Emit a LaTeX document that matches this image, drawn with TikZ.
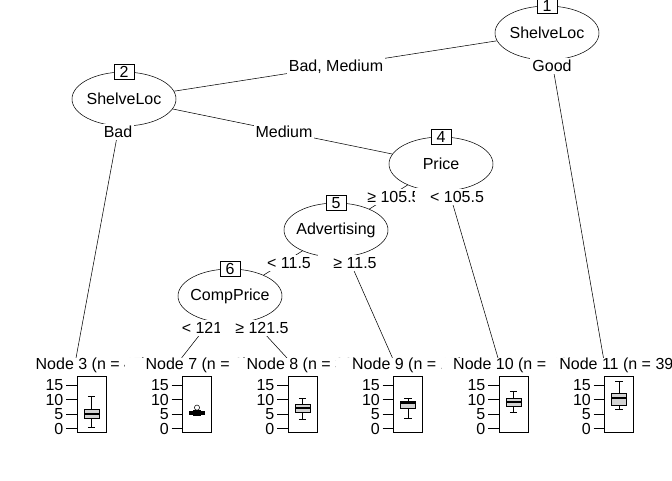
\documentclass[tikz,border=0pt]{standalone}
\usepackage{fontspec}
\setmainfont{Liberation Sans}
\usetikzlibrary{shapes.geometric}
\pgfdeclarelayer{bg}
\pgfdeclarelayer{edges}
\pgfsetlayers{bg,edges,main}
\definecolor{boxgray}{HTML}{D3D3D3}
\tikzset{
  inner/.style={ellipse, draw, fill=white, minimum width=78pt, minimum height=40.5pt, inner sep=0pt},
  idbox/.style={draw, fill=white, minimum width=15pt, minimum height=11.25pt, inner sep=0pt},
  elab/.style={fill=white, inner xsep=1.5pt, inner ysep=2pt, text height=8.6pt, text depth=0pt},
  edge/.style={draw},
  ptitle/.style={anchor=base, inner sep=0pt},
  ticklab/.style={anchor=east, inner sep=0pt},
  medline/.style={line width=1.5pt}
}
% white extension to the left of a split label (as the reference's label boxes)
\newcommand{\leftpad}[1]{\fill[white] ([xshift=-9.5pt]#1.south west) rectangle (#1.north west);}
\newcommand{\leafpanel}[9]{%
  \path[fill=white] ({#2-72},358) rectangle ({#2+34},446);
  \node[ptitle] (#1title) at (#2,369) {#3};
  \draw ({#2-14.5},376.7) rectangle ({#2+14.5},432.3);
  \begin{scope}[shift={(0,428.5)}, y={(0pt,2.175pt)}]
    \foreach \v in {0,5,10,15}{
      \draw ({#2-25.5},\v) -- ({#2-14.5},\v);
      \node[ticklab] (#1tick\v) at ({#2-27.9},\v) {\v};
    }
    \draw (#2,#4) -- (#2,#5) (#2,#7) -- (#2,#8);
    \draw ({#2-3.75},#4) -- ({#2+3.75},#4) ({#2-3.75},#8) -- ({#2+3.75},#8);
    \filldraw[fill=boxgray] ({#2-7.5},#5) rectangle ({#2+7.5},#7);
    \draw[medline] ({#2-7.5},#6) -- ({#2+7.5},#6);
    #9
  \end{scope}
}
\begin{document}
\begin{tikzpicture}[x=0.75pt, y=-0.75pt, font=\fontsize{12}{14}\selectfont, line width=0.7pt]
\useasboundingbox (0,0) rectangle (672,480);
\clip (0,0) rectangle (672,480);
\begin{pgfonlayer}{bg}
  \fill[white] (0,0) rectangle (672,480);
\end{pgfonlayer}

% inner nodes
\node[inner, label={[name=n1t]center:ShelveLoc}] (n1) at (547,33) {};
\node[inner, label={[name=n2t]center:ShelveLoc}] (n2) at (124,99) {};
\node[inner, label={[name=n4t]center:Price}] (n4) at (441,164) {};
\node[inner, label={[name=n5t]center:Advertising}] (n5) at (336,230) {};
\node[inner, label={[name=n6t]center:CompPrice}] (n6) at (230,296) {};
\node[idbox] (id1) at (n1.north) {1};
\node[idbox] (id2) at (n2.north) {2};
\node[idbox] (id4) at (n4.north) {4};
\node[idbox] (id5) at (n5.north) {5};
\node[idbox] (id6) at (n6.north) {6};

% leaf top points
\coordinate (l3) at (76,358);
\coordinate (l7) at (181.5,358);
\coordinate (l8) at (287,358);
\coordinate (l9) at (392.5,358);
\coordinate (l10) at (498,358);
\coordinate (l11) at (603.5,358);

\begin{pgfonlayer}{edges}
  \draw[edge] (n1) -- (n2);
  \draw[edge] (n1) -- (l11);
  \draw[edge] (n2) -- (l3);
  \draw[edge] (n2) -- (n4);
  \draw[edge] (n4) -- (n5);
  \draw[edge] (n4) -- (l10);
  \draw[edge] (n5) -- (n6);
  \draw[edge] (n5) -- (l9);
  \draw[edge] (n6) -- (l7);
  \draw[edge] (n6) -- (l8);
\end{pgfonlayer}

% edge labels
\node[elab] (e12) at (336,66) {Bad, Medium};
\node[elab] (e111) at (552,66) {Good};
\node[elab] (e23) at (118,132) {Bad};
\node[elab] (e24) at (284,132) {Medium};
\node[elab] (e45) at (394,197) {≥ 105.5};
\node[elab] (e410) at (457,197) {< 105.5};
\leftpad{e410}
\node[elab] (e56) at (289,263) {< 11.5};
\node[elab] (e59) at (355,263) {≥ 11.5};
\leftpad{e59}
\node[elab] (e67) at (202,328) {< 121};
\node[elab] (e68) at (262,328) {≥ 121.5};
\leftpad{e68}

% terminal panels
\leafpanel{p3}{91.5}{Node 3 (n = 45)}{0.5}{3.4}{5.1}{6.8}{11}{}
\leafpanel{p7}{197}{Node 7 (n = 9)}{4.4}{4.8}{5.4}{6.0}{6.3}{\draw (197,7.2) circle[radius=1.95pt];}
\leafpanel{p8}{302.5}{Node 8 (n = 33)}{3.2}{5.6}{7.0}{8.3}{10.6}{}
\leafpanel{p9}{408}{Node 9 (n = 17)}{3.5}{7.0}{8.7}{9.5}{10.6}{}
\leafpanel{p10}{513.5}{Node 10 (n = 48)}{5.6}{7.5}{9.0}{10.6}{12.9}{}
\leafpanel{p11}{619}{Node 11 (n = 39)}{6.7}{8.1}{10.6}{12.1}{16.4}{}
\end{tikzpicture}
\end{document}
